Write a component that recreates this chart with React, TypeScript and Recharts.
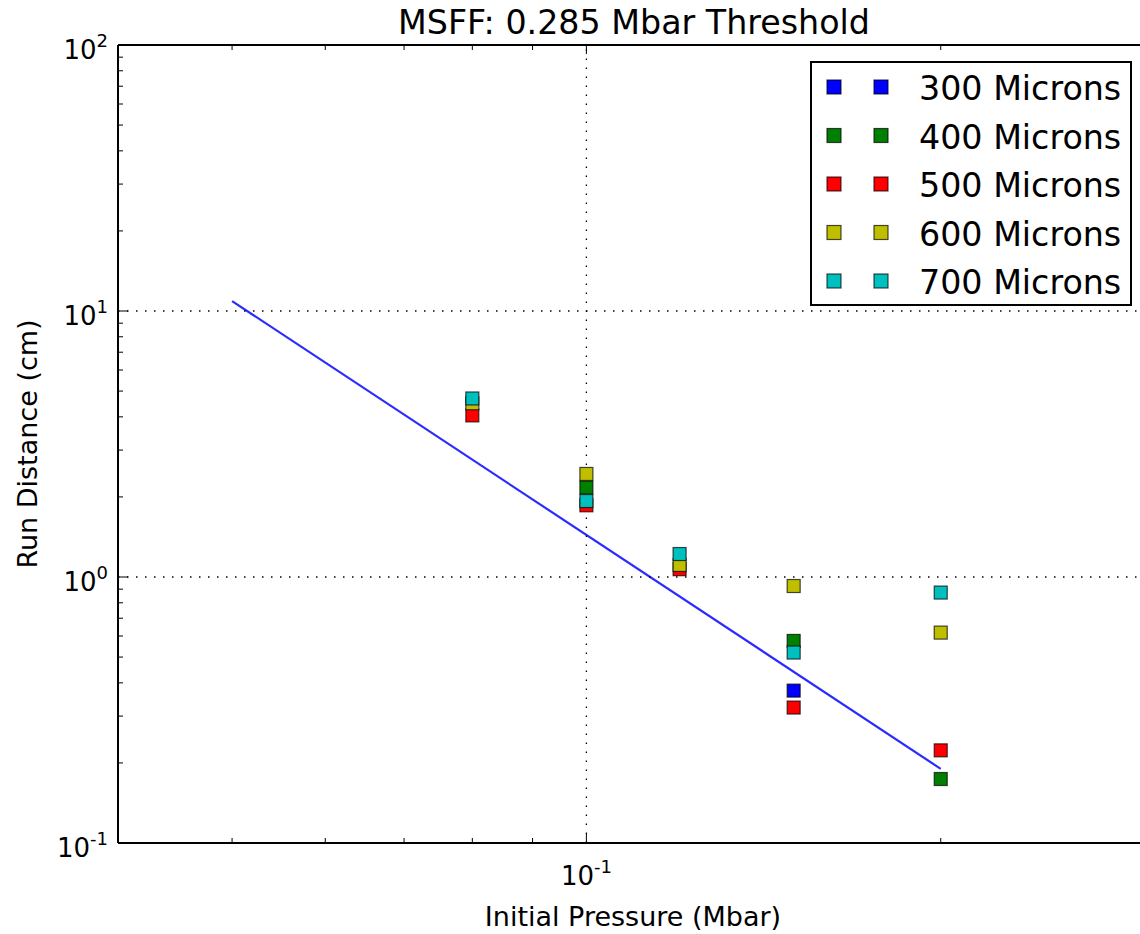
import React from "react";
import { ComposedChart, XAxis, YAxis, Scatter, Line, ReferenceLine, Legend } from "recharts";

const FONT = "'DejaVu Sans', sans-serif";

// pressure (Mbar) / run distance (cm) for each hole size
const pressures300 = [0.15];
const distances300 = [0.374];
const pressures400 = [0.1, 0.15, 0.2];
const distances400 = [2.17, 0.575, 0.174];
const pressures500 = [0.08, 0.1, 0.12, 0.15, 0.2];
const distances500 = [4.05, 1.86, 1.07, 0.323, 0.223];
const pressures600 = [0.08, 0.1, 0.12, 0.15, 0.2];
const distances600 = [4.5, 2.44, 1.11, 0.925, 0.618];
const pressures700 = [0.08, 0.1, 0.12, 0.15, 0.2];
const distances700 = [4.69, 1.93, 1.22, 0.52, 0.874];

// fitted power law
const fitPressures = [0.05, 0.2];
const fitDistances = [10.9, 0.19];

const seriesNames = ["300 Microns", "400 Microns", "500 Microns", "600 Microns", "700 Microns"];
const seriesColors = ["#0000ff", "#008000", "#ff0000", "#bfbf00", "#00bfbf"];

const xMajorTicks = [0.1];
const xMinorTicks = [0.05, 0.06, 0.07, 0.08, 0.09, 0.2, 0.3];
const yMajorTicks = [0.1, 1, 10, 100];
const yMinorTicks = [
  0.2, 0.3, 0.4, 0.5, 0.6, 0.7, 0.8, 0.9,
  2, 3, 4, 5, 6, 7, 8, 9,
  20, 30, 40, 50, 60, 70, 80, 90,
];

const toPoints = (xs: number[], ys: number[]) => xs.map((x, i) => ({ x, y: ys[i] }));

const seriesData = [
  toPoints(pressures300, distances300),
  toPoints(pressures400, distances400),
  toPoints(pressures500, distances500),
  toPoints(pressures600, distances600),
  toPoints(pressures700, distances700),
];
const fitData = toPoints(fitPressures, fitDistances);

const expOf = (v: number) => {
  const e = Math.round(Math.log10(v));
  return e < 0 ? "-" + Math.abs(e) : String(e);
};

const BottomTick = (props: any) => {
  const { x, y, payload } = props;
  const major = xMajorTicks.includes(payload.value);
  return (
    <g>
      <line x1={x} y1={y} x2={x} y2={y - (major ? 9 : 5)} stroke="#000" strokeWidth={1} />
      {major && (
        <text x={x} y={y + 42} textAnchor="middle" fontFamily={FONT} fontSize={26} fill="#000">
          10<tspan dy={-12} fontSize={18}>{expOf(payload.value)}</tspan>
        </text>
      )}
    </g>
  );
};

const TopTick = (props: any) => {
  const { x, y, payload } = props;
  const major = xMajorTicks.includes(payload.value);
  return <line x1={x} y1={y} x2={x} y2={y + (major ? 9 : 5)} stroke="#000" strokeWidth={1} />;
};

const LeftTick = (props: any) => {
  const { x, y, payload } = props;
  const major = yMajorTicks.includes(payload.value);
  return (
    <g>
      <line x1={x} y1={y} x2={x + (major ? 10 : 5)} y2={y} stroke="#000" strokeWidth={1} />
      {major && (
        <text x={x - 10} y={y + 14} textAnchor="end" fontFamily={FONT} fontSize={26} fill="#000">
          10<tspan dy={-12} fontSize={18}>{expOf(payload.value)}</tspan>
        </text>
      )}
    </g>
  );
};

const SquareDot = (props: any) => {
  const { cx, cy, fill } = props;
  if (cx == null || cy == null) return null;
  return (
    <rect
      x={cx - 6.5}
      y={cy - 6.5}
      width={13}
      height={13}
      fill={fill}
      stroke="#000"
      strokeOpacity={0.7}
      strokeWidth={1.2}
    />
  );
};

const renderLegend = () => (
  <svg width={323} height={246} style={{ display: "block" }}>
    <rect x={1} y={1} width={320} height={243} fill="#fff" stroke="#000" strokeWidth={2} />
    {seriesNames.map((name, i) => {
      const cy = 26 + i * 48.5;
      return (
        <g key={name}>
          {[24, 71].map((cx) => (
            <rect
              key={cx}
              x={cx - 7}
              y={cy - 7}
              width={14}
              height={14}
              fill={seriesColors[i]}
              stroke="#000"
              strokeOpacity={0.7}
              strokeWidth={1.2}
            />
          ))}
          <text x={109} y={cy + 13} fontFamily={FONT} fontSize={33.3} fill="#000">
            {name}
          </text>
        </g>
      );
    })}
  </svg>
);

const gridStyle = { stroke: "#000", strokeWidth: 1.3, strokeDasharray: "1.5 7.5" };

export default function App() {
  return (
    <div
      style={{
        position: "fixed",
        left: 0,
        top: 0,
        width: 1140,
        height: 934,
        overflow: "hidden",
        background: "#fff",
      }}
    >
      <ComposedChart width={1160} height={934} margin={{ top: 44, right: 12, bottom: 0, left: 0 }}>
        <XAxis
          dataKey="x"
          type="number"
          scale="log"
          domain={[0.04, 0.3]}
          allowDataOverflow
          ticks={[...xMajorTicks, ...xMinorTicks]}
          interval={0}
          tick={<BottomTick />}
          tickLine={false}
          tickSize={0}
          tickMargin={0}
          height={91}
          axisLine={{ stroke: "#000", strokeWidth: 2 }}
          label={{
            content: () => (
              <text x={633} y={926} textAnchor="middle" fontFamily={FONT} fontSize={27} fill="#000">
                Initial Pressure (Mbar)
              </text>
            ),
          }}
        />
        <XAxis
          xAxisId="top"
          orientation="top"
          dataKey="x"
          type="number"
          scale="log"
          domain={[0.04, 0.3]}
          allowDataOverflow
          ticks={[...xMajorTicks, ...xMinorTicks]}
          interval={0}
          tick={<TopTick />}
          tickLine={false}
          tickSize={0}
          tickMargin={0}
          height={1}
          axisLine={{ stroke: "#000", strokeWidth: 2 }}
          label={{
            content: () => (
              <text x={634} y={34} textAnchor="middle" fontFamily={FONT} fontSize={33.3} fill="#000">
                MSFF: 0.285 Mbar Threshold
              </text>
            ),
          }}
        />
        <YAxis
          dataKey="y"
          type="number"
          scale="log"
          domain={[0.1, 100]}
          allowDataOverflow
          ticks={[...yMajorTicks, ...yMinorTicks]}
          interval={0}
          tick={<LeftTick />}
          tickLine={false}
          tickSize={0}
          tickMargin={0}
          width={118}
          axisLine={{ stroke: "#000", strokeWidth: 2 }}
          label={{
            content: () => (
              <text
                x={37}
                y={444}
                transform="rotate(-90, 37, 444)"
                textAnchor="middle"
                fontFamily={FONT}
                fontSize={27}
                fill="#000"
              >
                Run Distance (cm)
              </text>
            ),
          }}
        />
        <Line
          data={fitData}
          dataKey="y"
          stroke="#2b2bff"
          strokeWidth={2.2}
          dot={false}
          activeDot={false}
          legendType="none"
          isAnimationActive={false}
        />
        {seriesData.map((pts, i) => (
          <Scatter
            key={seriesNames[i]}
            name={seriesNames[i]}
            data={pts}
            dataKey="y"
            fill={seriesColors[i]}
            shape={<SquareDot />}
            isAnimationActive={false}
          />
        ))}
        <ReferenceLine y={100} stroke="#000" strokeWidth={2} />
        <ReferenceLine x={0.1} {...gridStyle} />
        <ReferenceLine y={10} {...gridStyle} />
        <ReferenceLine y={1} {...gridStyle} />
        <Legend
          layout="horizontal"
          align="center"
          verticalAlign="middle"
          content={renderLegend}
          wrapperStyle={{ position: "absolute", left: 810, top: 61, width: 323, height: 246 }}
        />
      </ComposedChart>
    </div>
  );
}
